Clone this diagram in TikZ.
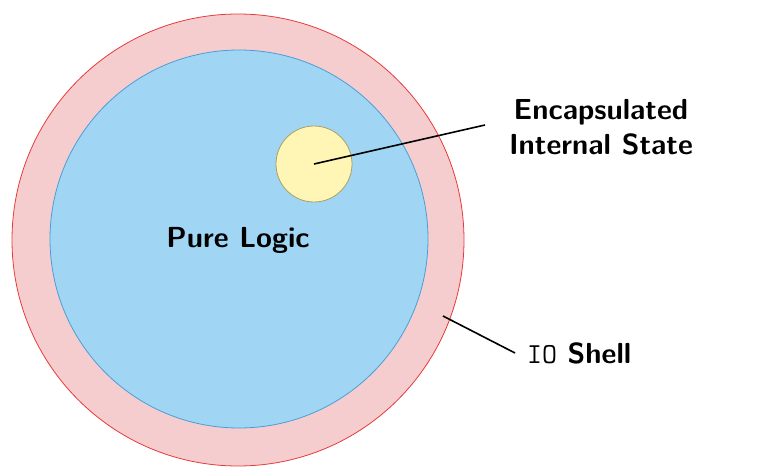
\documentclass[tikz,border=0pt]{standalone}
\usepackage{fontspec}
\definecolor{shellfill}{RGB}{246,205,207}
\definecolor{shelldraw}{RGB}{232,58,58}
\definecolor{logicfill}{RGB}{160,214,244}
\definecolor{logicdraw}{RGB}{74,158,214}
\definecolor{statefill}{RGB}{255,246,182}
\definecolor{statedraw}{RGB}{170,160,100}
\tikzset{
  lbl/.style={font=\fontsize{29}{35}\selectfont\sffamily\bfseries, align=center, inner sep=0pt},
  leader/.style={line width=1.6pt, black},
}
\begin{document}
\begin{tikzpicture}[x=1pt,y=-1pt]
\useasboundingbox (0,0) rectangle (766,476);
\node[circle, minimum size=452pt, inner sep=0pt, fill=shellfill, draw=shelldraw, line width=0.8pt] (shell) at (238,240) {};
\node[circle, minimum size=378pt, inner sep=0pt, fill=logicfill, draw=logicdraw, line width=0.8pt] (logic) at (239,239) {};
\node[circle, minimum size=76pt, inner sep=0pt, fill=statefill, draw=statedraw, line width=0.8pt] (state) at (314,164) {};
\node[lbl] (pure) at (238,240) {Pure Logic};
\node[lbl] (enc) at (601,127) {Encapsulated\\Internal State};
\node[lbl, anchor=west] (io) at (527,353) {\texttt{\mdseries IO} Shell};
\coordinate (encend) at (485,125);
\coordinate (shellpt) at (443,316);
\coordinate (ioend) at (515,353);
\draw[leader] (state.center) -- (encend);
\draw[leader] (shellpt) -- (ioend);
\end{tikzpicture}
\end{document}
